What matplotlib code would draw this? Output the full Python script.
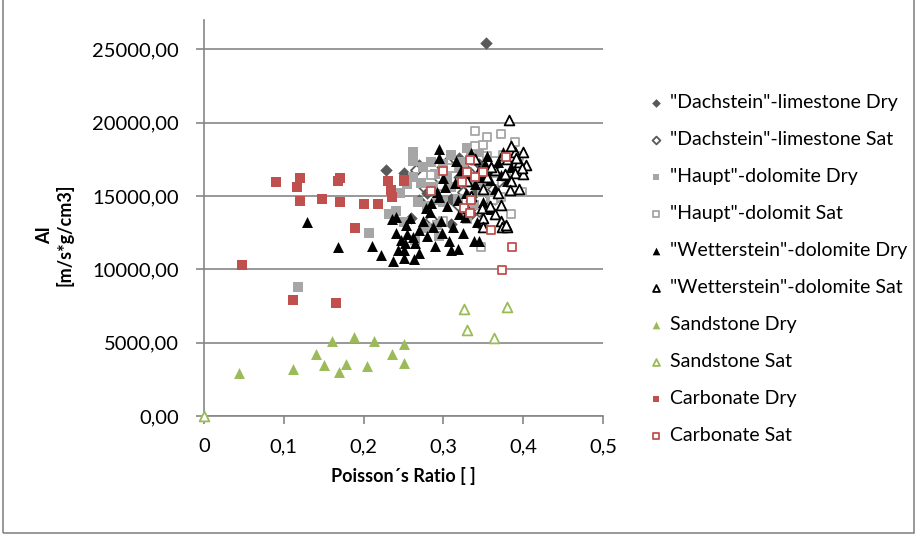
import matplotlib.pyplot as plt
from matplotlib.patches import Rectangle
from matplotlib.ticker import FuncFormatter

plt.rcParams['font.family'] = ['Lato', 'DejaVu Sans']

# Poisson's ratio / acoustic impedance per rock type and saturation state
dach_dry_x = [0.354, 0.228, 0.270, 0.290, 0.260, 0.280, 0.300, 0.310, 0.320, 0.330, 0.340,
              0.350, 0.358, 0.365, 0.335, 0.310, 0.298, 0.345, 0.360, 0.320, 0.250, 0.270]
dach_dry_y = [25400, 16800, 17100, 15500, 13500, 15200, 15800, 14800, 16300, 16800, 15200,
              16700, 15000, 14800, 13800, 13100, 17000, 17200, 16300, 17600, 16600, 14700]

dach_sat_x = [0.266, 0.275, 0.295, 0.325, 0.335, 0.355, 0.362, 0.370, 0.345, 0.318, 0.305,
              0.285, 0.347, 0.365]
dach_sat_y = [16800, 15700, 16200, 15300, 16500, 14200, 15500, 16000, 14000, 14400, 17300,
              13400, 13000, 17100]

haupt_dry_x = [0.118, 0.207, 0.262, 0.262, 0.245, 0.240, 0.232, 0.255, 0.262, 0.275, 0.285,
               0.290, 0.300, 0.305, 0.310, 0.268, 0.280, 0.292, 0.318, 0.325, 0.335, 0.340,
               0.348, 0.330, 0.295, 0.265, 0.300, 0.315, 0.338, 0.352, 0.285, 0.272, 0.310,
               0.322, 0.345, 0.330, 0.360, 0.250, 0.278, 0.292]
haupt_dry_y = [8800, 12500, 18000, 17400, 15200, 14000, 13800, 15800, 16300, 17000, 17300,
               16500, 17200, 16200, 15600, 14600, 14300, 13000, 14800, 16800, 17600, 16000,
               15300, 13400, 12300, 12000, 14600, 16900, 14400, 15900, 15600, 15900, 17800,
               17300, 18000, 18300, 14900, 13200, 12800, 14700]

haupt_sat_x = [0.340, 0.355, 0.372, 0.340, 0.355, 0.375, 0.390, 0.395, 0.398, 0.385, 0.347,
               0.300, 0.285, 0.363, 0.372, 0.378, 0.322, 0.310, 0.350, 0.297, 0.365, 0.362]
haupt_sat_y = [19400, 19000, 19200, 18400, 17700, 17800, 18700, 17700, 15300, 13800, 11500,
               13300, 16400, 16000, 14900, 16300, 15900, 16900, 18500, 15700, 17400, 14700]

wett_dry_x = [0.129, 0.168, 0.210, 0.222, 0.237, 0.240, 0.236, 0.240, 0.247, 0.250, 0.252,
              0.250, 0.255, 0.253, 0.258, 0.262, 0.265, 0.270, 0.270, 0.274, 0.278, 0.280,
              0.283, 0.285, 0.287, 0.290, 0.292, 0.295, 0.297, 0.298, 0.300, 0.302, 0.305,
              0.307, 0.310, 0.312, 0.314, 0.316, 0.318, 0.320, 0.322, 0.325, 0.328, 0.330,
              0.332, 0.335, 0.338, 0.340, 0.342, 0.345, 0.348, 0.350, 0.352, 0.355, 0.358,
              0.360, 0.362, 0.365, 0.368, 0.372, 0.375, 0.380, 0.385, 0.294, 0.295, 0.263,
              0.243, 0.318, 0.327]
wett_dry_y = [13200, 11500, 11600, 11000, 10600, 12500, 13400, 13600, 12000, 11300, 11800,
              10800, 12400, 13000, 13500, 12200, 11800, 11100, 12700, 13300, 14200, 12300,
              13900, 14500, 12900, 11600, 15300, 14900, 13300, 12500, 16200, 15600, 14300,
              11900, 11300, 12900, 15900, 17400, 14700, 13800, 16800, 12500, 15200, 14200,
              16600, 17900, 11900, 15800, 13200, 11900, 16300, 14600, 17200, 17700, 16100,
              14100, 16800, 15500, 17300, 16400, 18000, 16000, 17000, 18200, 17600, 10700,
              11300, 11400, 13600]

wett_sat_x = [0.382, 0.335, 0.350, 0.350, 0.348, 0.350, 0.372, 0.373, 0.380, 0.372, 0.390,
              0.385, 0.400, 0.380, 0.395, 0.403, 0.390, 0.377, 0.400, 0.385, 0.395, 0.365,
              0.375, 0.360, 0.355, 0.345, 0.340, 0.330, 0.368, 0.383, 0.398, 0.391, 0.358,
              0.365, 0.378]
wett_sat_y = [20200, 15000, 13500, 12900, 14200, 15500, 13300, 12900, 12900, 14400, 18000,
              18400, 18000, 17500, 17300, 17100, 16600, 16500, 16500, 16000, 15500, 16800,
              17800, 17000, 16300, 16700, 17500, 16000, 15200, 15400, 16900, 17600, 14300,
              13800, 13000]

sand_dry_x = [0.000, 0.044, 0.111, 0.140, 0.151, 0.161, 0.169, 0.178, 0.188, 0.204, 0.213,
              0.236, 0.250, 0.250]
sand_dry_y = [0, 2930, 3200, 4220, 3470, 5110, 3000, 3540, 5380, 3410, 5110,
              4220, 4900, 3610]

sand_sat_x = [0.000, 0.326, 0.380, 0.329, 0.363]
sand_sat_y = [0, 7290, 7420, 5860, 5310]

carb_dry_x = [0.090, 0.120, 0.116, 0.120, 0.148, 0.170, 0.168, 0.170, 0.200, 0.218, 0.189,
              0.048, 0.111, 0.165, 0.230, 0.234, 0.236, 0.250, 0.251]
carb_dry_y = [15940, 16210, 15600, 14650, 14780, 16210, 16010, 14580, 14440, 14440, 12810,
              10290, 7900, 7700, 16000, 15400, 14900, 16000, 16080]

carb_sat_x = [0.373, 0.386, 0.360, 0.326, 0.333, 0.300, 0.285, 0.379, 0.333, 0.349, 0.329,
              0.323, 0.335, 0.340]
carb_sat_y = [9950, 11500, 12670, 14170, 13830, 16690, 15330, 17640, 17440, 16620, 16620,
              15940, 14700, 16300]

series = [
    ('"Dachstein"-limestone Dry', dach_dry_x, dach_dry_y, 'D', '#595959', True),
    ('"Dachstein"-limestone Sat', dach_sat_x, dach_sat_y, 'D', '#595959', False),
    ('"Haupt"-dolomite Dry', haupt_dry_x, haupt_dry_y, 's', '#A6A6A6', True),
    ('"Haupt"-dolomit Sat', haupt_sat_x, haupt_sat_y, 's', '#A6A6A6', False),
    ('"Wetterstein"-dolomite Dry', wett_dry_x, wett_dry_y, '^', '#000000', True),
    ('"Wetterstein"-dolomite Sat', wett_sat_x, wett_sat_y, '^', '#000000', False),
    ('Sandstone Dry', sand_dry_x, sand_dry_y, '^', '#9BBB59', True),
    ('Sandstone Sat', sand_sat_x, sand_sat_y, '^', '#9BBB59', False),
    ('Carbonate Dry', carb_dry_x, carb_dry_y, 's', '#C0504D', True),
    ('Carbonate Sat', carb_sat_x, carb_sat_y, 's', '#C0504D', False),
]

fig = plt.figure(figsize=(9.17, 5.35), dpi=100)
ax = fig.add_axes([204 / 917, 1 - 416 / 535, 399 / 917, 396 / 535])

for label, xs, ys, marker, color, filled in series:
    size = {'D': 40, 's': 50, '^': 62}[marker]
    if filled:
        ax.scatter(xs, ys, marker=marker, s=size, color=color, linewidths=0,
                   label=label, zorder=3, clip_on=False)
    else:
        ax.scatter(xs, ys, marker=marker, s=size * 0.8, facecolors='white',
                   edgecolors=color, linewidths=1.3, label=label, zorder=3,
                   clip_on=False)

grid_c = '#868686'
ax.set_xlim(0, 0.5)
ax.set_ylim(0, 27000)
ax.set_xticks([0, 0.1, 0.2, 0.3, 0.4, 0.5])
ax.set_yticks(range(0, 25001, 5000))
ax.xaxis.set_major_formatter(FuncFormatter(lambda v, p: f'{v:g}'.replace('.', ',')))
ax.yaxis.set_major_formatter(FuncFormatter(lambda v, p: f'{v:.2f}'.replace('.', ',')))
ax.grid(axis='y', color=grid_c, linewidth=1.2, zorder=0)
ax.set_axisbelow(True)
for side in ('top', 'right'):
    ax.spines[side].set_visible(False)
for side in ('left', 'bottom'):
    ax.spines[side].set_color(grid_c)
    ax.spines[side].set_linewidth(1.2)
ax.tick_params(axis='both', colors=grid_c, length=6, width=1.2, labelcolor='black',
               labelsize=14.5)
ax.tick_params(axis='x', pad=10)
ax.tick_params(axis='y', pad=12)

fig.text(55 / 917, 1 - 235 / 535, 'AI\n[m/s*g/cm3]', rotation=90, ha='center',
         va='center', fontsize=13, fontweight='bold', linespacing=1.15)
fig.text(403 / 917, 1 - 476 / 535, 'Poisson´s Ratio [ ]', ha='center', va='center',
         fontsize=13, fontweight='bold')

ax.legend(loc='upper left', bbox_to_anchor=(640 / 917, 1 - 86 / 535),
          bbox_transform=fig.transFigure, frameon=False, fontsize=14,
          markerscale=0.7, handletextpad=0.35, labelspacing=1.03,
          handlelength=0.8, borderaxespad=0)

fig.patches.append(Rectangle((3 / 917, 2 / 535), 911 / 917, 540 / 535,
                             transform=fig.transFigure, fill=False,
                             edgecolor='#868686', linewidth=1.2))

fig.savefig('out.png', dpi=100)
